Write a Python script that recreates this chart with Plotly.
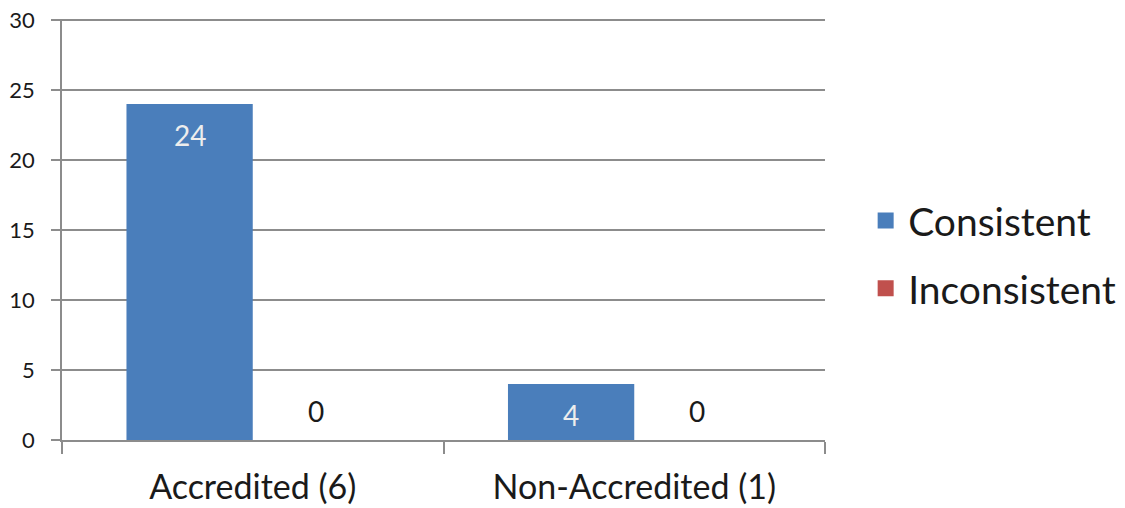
import plotly.graph_objects as go

categories = ["Accredited (6)", "Non-Accredited (1)"]
consistent = [24, 4]
inconsistent = [0, 0]
y_ticks = [0, 5, 10, 15, 20, 25, 30]

FONT = "Lato"
GRID = "#8c8c8c"
BLUE = "#4A7EBB"
RED = "#C0504D"

fig = go.Figure()
fig.add_trace(go.Bar(
    name="Consistent", x=categories, y=consistent,
    marker=dict(color=BLUE, line=dict(width=0)),
    showlegend=False, hoverinfo="x+y",
))
fig.add_trace(go.Bar(
    name="Inconsistent", x=categories, y=inconsistent,
    marker=dict(color=RED, line=dict(width=0)),
    showlegend=False, hoverinfo="x+y",
))
# legend entries with larger square swatches
for nm, col, grp in [("Consistent", BLUE, "a"), ("Inconsistent", RED, "b")]:
    fig.add_trace(go.Scatter(
        name=nm, x=[categories[0]], y=[None], mode="markers",
        marker=dict(symbol="square", size=16, color=col),
        legendgroup=grp, showlegend=True, hoverinfo="skip",
    ))

# value labels: inside-end for Consistent, above base for Inconsistent
for cat, v in zip(categories, consistent):
    fig.add_annotation(x=cat, y=v, text=str(v), showarrow=False,
                       xshift=-63, yshift=-31, yanchor="middle",
                       font=dict(family=FONT, size=28, color="#EDEDED"))
for cat, v in zip(categories, inconsistent):
    fig.add_annotation(x=cat, y=v, text=str(v), showarrow=False,
                       xshift=63, yshift=29, yanchor="middle",
                       font=dict(family=FONT, size=28, color="#1a1a1a"))

fig.update_layout(
    width=1125, height=508,
    margin=dict(l=54, r=308, t=11, b=76),
    paper_bgcolor="white", plot_bgcolor="white",
    barmode="group", bargap=0.338, bargroupgap=0,
    font=dict(family=FONT, color="#1a1a1a"),
    showlegend=True,
    legend=dict(x=1.050, y=0.44, xanchor="left", yanchor="middle",
                font=dict(family=FONT, size=39, color="#1a1a1a"),
                tracegroupgap=14, itemwidth=35, bgcolor="rgba(0,0,0,0)"),
)
fig.update_xaxes(
    showgrid=False, showline=True, linecolor=GRID, linewidth=1.5,
    ticks="outside", tickson="boundaries", ticklen=12, tickcolor=GRID, tickwidth=1.5,
    tickfont=dict(family=FONT, size=34, color="#1a1a1a"),
    ticklabelstandoff=16, automargin=False,
)
fig.update_yaxes(
    range=[0, 30.08], tickvals=y_ticks,
    showgrid=True, gridcolor=GRID, gridwidth=1.5,
    showline=True, linecolor=GRID, linewidth=1.5,
    ticks="outside", ticklen=9, tickcolor=GRID, tickwidth=1.5,
    tickfont=dict(family=FONT, size=22, color="#1a1a1a"),
    ticklabelstandoff=12, ticklabeloverflow="allow",
    zeroline=False, automargin=False,
)

fig.write_html("out.html")
